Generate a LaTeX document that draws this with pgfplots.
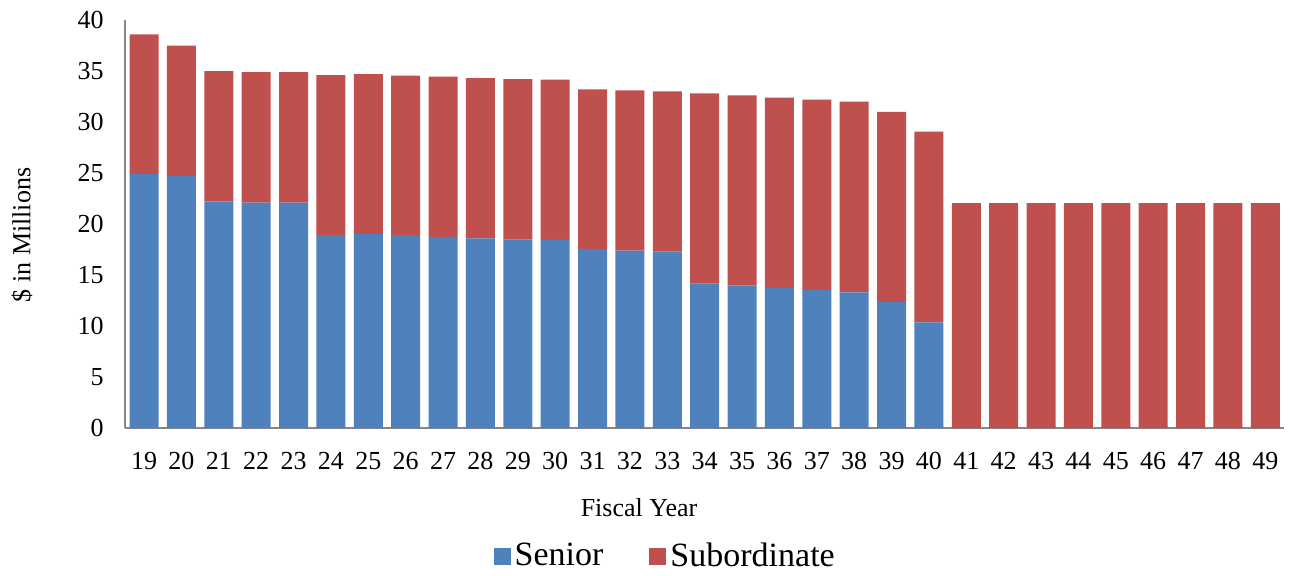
\documentclass[border=0pt]{standalone}
\usepackage{pgfplots}
\pgfplotsset{compat=1.18}
\usepackage{fontspec}
\setmainfont{Liberation Serif}
\definecolor{senior}{HTML}{4F81BD}
\definecolor{sub}{HTML}{C0504D}
\definecolor{axgray}{HTML}{868686}
\begin{document}
\begin{tikzpicture}
\useasboundingbox (0,0) rectangle (645.5pt,287.5pt);
\begin{axis}[
  at={(62.5pt,73.5pt)}, anchor=south west,
  scale only axis, width=579.5pt, height=204pt,
  ybar stacked, bar width=14.5pt,
  xmin=18.49, xmax=49.5, ymin=0, ymax=40,
  xtick={19,...,49}, ytick={0,5,...,40},
  major tick length=0pt,
  axis x line=bottom, axis y line=left,
  axis line style={draw=axgray, line width=0.9pt, -},
  /pgf/number format/assume math mode=true,
  tick label style={font=\fontsize{13}{13}\selectfont, text=black},
  yticklabel style={anchor=east, inner sep=0pt, xshift=-10.5pt},
  xticklabel style={anchor=north, inner sep=0pt, yshift=-12pt},
  xlabel={Fiscal Year}, ylabel={\$ in Millions},
  label style={font=\fontsize{13}{13}\selectfont},
  xlabel style={at={(axis description cs:0.4435,-0.196)}, anchor=center, inner sep=0pt},
  ylabel style={at={(axis description cs:-0.0889,0.473)}, anchor=center, rotate=0, inner sep=0pt},
  legend columns=2,
  legend style={at={(axis description cs:0.467,-0.314)}, anchor=center, draw=none,
    font=\fontsize{17}{17}\selectfont, inner sep=0pt,
    /tikz/every even column/.append style={column sep=21pt}},
]
\addplot[fill=senior, draw=none, legend image code/.code={\fill[senior] (-1.5pt,-4.25pt) rectangle (7pt,4.25pt);}] coordinates {
(19,24.9) (20,24.7) (21,22.2) (22,22.1) (23,22.1) (24,18.9) (25,19.0) (26,18.9)
(27,18.75) (28,18.6) (29,18.5) (30,18.45) (31,17.55) (32,17.4) (33,17.3) (34,14.15)
(35,13.95) (36,13.75) (37,13.55) (38,13.3) (39,12.35) (40,10.35)
(41,0) (42,0) (43,0) (44,0) (45,0) (46,0) (47,0) (48,0) (49,0)};
\addlegendentry{Senior}
\addplot[fill=sub, draw=none, legend image code/.code={\fill[sub] (-1.5pt,-4.25pt) rectangle (7pt,4.25pt);}] coordinates {
(19,13.7) (20,12.8) (21,12.8) (22,12.8) (23,12.8) (24,15.7) (25,15.7) (26,15.65)
(27,15.7) (28,15.7) (29,15.7) (30,15.7) (31,15.65) (32,15.7) (33,15.7) (34,18.65)
(35,18.65) (36,18.65) (37,18.65) (38,18.7) (39,18.65) (40,18.7)
(41,22.05) (42,22.05) (43,22.05) (44,22.05) (45,22.05) (46,22.05) (47,22.05) (48,22.05) (49,22.05)};
\addlegendentry{Subordinate}
\end{axis}
\end{tikzpicture}
\end{document}
